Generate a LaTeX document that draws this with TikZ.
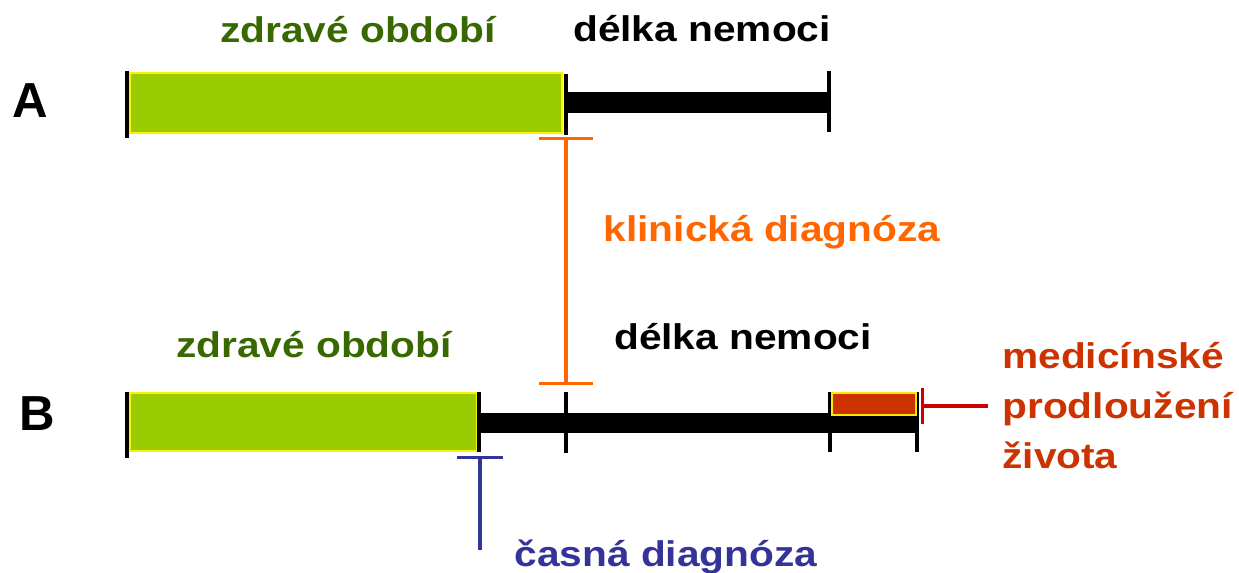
\documentclass[tikz,border=0pt]{standalone}
\usepackage{fontspec}
\setmainfont[FakeStretch=1.14]{Liberation Sans}
\newfontfamily\pismenofont{Liberation Sans}
\usetikzlibrary{arrows.meta}
\definecolor{zdravi}{RGB}{153,204,0}
\definecolor{zdravitext}{RGB}{56,104,0}
\definecolor{klinika}{RGB}{255,102,0}
\definecolor{prodlouzeni}{RGB}{204,51,0}
\definecolor{casna}{RGB}{51,51,153}
\definecolor{sipka}{RGB}{204,0,0}
\tikzset{
    popis/.style={font=\fontsize{20.3}{28.3}\selectfont\bfseries, inner sep=0pt, anchor=base},
    pismeno/.style={font=\fontsize{28}{30}\selectfont\bfseries\pismenofont, inner sep=0pt},
    mez/.style={line width=2.3pt},
    nemoc/.style={line width=11.5pt},
    zdrave/.style={fill=zdravi, draw=yellow, line width=1pt},
    diag/.style={line width=1.9pt}
}

\begin{document}
\begin{tikzpicture}[x=0.02cm, y=-0.02cm]
    \useasboundingbox (0,0) rectangle (1239,573);

    \node[pismeno] (A) at (30,101) {A};
    \node[pismeno] (B) at (37,414) {B};

    % radek A
    \node[popis, text=zdravitext] (zdraveA) at (358,43) {zdravé období};
    \node[popis] (delkaA) at (702,42) {délka nemoci};
    \draw[zdrave] (130,73) rectangle (562,133);
    \coordinate (a1) at (566,102.5);
    \coordinate (a2) at (829,102.5);
    \path [nemoc](a1) edge (a2);
    \draw[mez] (127,71) -- (127,138);
    \draw[mez] (566,74) -- (566,135);
    \draw[mez] (829,71) -- (829,132);

    % klinicka diagnoza
    \coordinate (k1) at (566,137);
    \coordinate (k2) at (566,385);
    \path [diag, klinika, {Bar[width=31pt]}-{Bar[width=31pt]}](k1) edge (k2);
    \node[popis, text=klinika] (klinicka) at (772,242) {klinická diagnóza};

    % radek B
    \node[popis, text=zdravitext] (zdraveB) at (314,358) {zdravé období};
    \node[popis] (delkaB) at (743,350) {délka nemoci};
    \draw[zdrave] (130,393) rectangle (477,451);
    \coordinate (b1) at (479,423);
    \coordinate (b2) at (917,423);
    \path [nemoc](b1) edge (b2);
    \draw[mez] (127,392) -- (127,458);
    \draw[mez] (479,392) -- (479,452);
    \draw[mez] (566,392) -- (566,453);
    \draw[mez] (830,392) -- (830,452);
    \draw[mez] (917,392) -- (917,452);
    \draw[fill=prodlouzeni, draw=yellow!90!orange, line width=1pt] (832,393) rectangle (916,415);

    % prodlouzeni zivota
    \coordinate (p1) at (988,406);
    \coordinate (p2) at (921,406);
    \path [diag, sipka, -{Bar[width=21pt]}](p1) edge (p2);
    \node[popis, text=prodlouzeni, anchor=base west, align=left] (zivot) at (1002,468) {medicínské\\prodloužení\\života};

    % casna diagnoza
    \coordinate (c1) at (480,456);
    \coordinate (c2) at (480,550);
    \path [diag, casna, {Bar[width=26pt]}-](c1) edge (c2);
    \node[popis, text=casna] (casnad) at (666,566) {časná diagnóza};
\end{tikzpicture}
\end{document}
